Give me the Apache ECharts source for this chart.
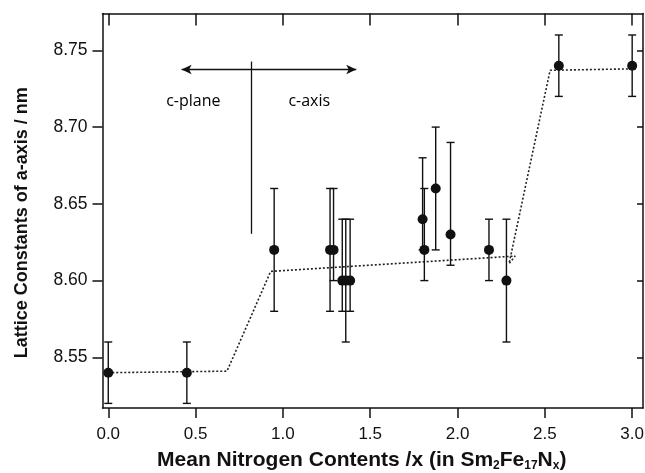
<!DOCTYPE html>
<html>
<head>
<meta charset="utf-8">
<script src="https://cdn.jsdelivr.net/npm/echarts@6/dist/echarts.min.js"></script>
<style>
  html, body { margin: 0; padding: 0; background: #fff; }
  #main { width: 645px; height: 473px; }
</style>
</head>
<body>
<div id="main"></div>
<script>
// tick positions
const xTicks = [0, 0.5, 1.0, 1.5, 2.0, 2.5, 3.0];
const yTicks = [8.55, 8.60, 8.65, 8.70, 8.75];

// measured points (x = mean N content, a = lattice constant) with error bar ends
const nitrogen = [0.00, 0.45, 0.95, 1.27, 1.29, 1.34, 1.36, 1.385, 1.80, 1.81, 1.875, 1.96, 2.18, 2.28, 2.58, 3.00];
const latticeA = [8.54, 8.54, 8.62, 8.62, 8.62, 8.60, 8.60, 8.60, 8.64, 8.62, 8.66, 8.63, 8.62, 8.60, 8.74, 8.74];
const errLow   = [8.52, 8.52, 8.58, 8.58, 8.60, 8.58, 8.56, 8.58, 8.62, 8.60, 8.62, 8.61, 8.60, 8.56, 8.72, 8.72];
const errHigh  = [8.56, 8.56, 8.66, 8.66, 8.66, 8.64, 8.64, 8.64, 8.68, 8.66, 8.70, 8.69, 8.64, 8.64, 8.76, 8.76];

// dotted guide line
const fitX = [0.00, 0.68, 0.93, 2.33, 2.295, 2.53, 3.03];
const fitY = [8.540, 8.541, 8.606, 8.616, 8.611, 8.737, 8.738];

// c-plane / c-axis annotation
const arrowX = [0.42, 1.42];
const arrowY = 8.7375;
const dividerX = 0.821;
const dividerY = [8.6305, 8.7427];
const regionLabels = ['c-plane', 'c-axis'];
const regionLabelX = [0.487, 1.151];
const regionLabelY = [8.717, 8.717];

const xMin = -0.033, xMax = 3.062;
const yMin = 8.517, yMax = 8.774;
const ink = '#111';
const font = 'Liberation Sans';

const chart = echarts.init(document.getElementById('main'));

function errorBar(params, api) {
  const x = api.value(0);
  const top = api.coord([x, api.value(2)]);
  const bot = api.coord([x, api.value(1)]);
  const w = 4;
  const style = { stroke: ink, lineWidth: 1.4 };
  return {
    type: 'group',
    children: [
      { type: 'line', shape: { x1: top[0], y1: top[1], x2: bot[0], y2: bot[1] }, style: style },
      { type: 'line', shape: { x1: top[0] - w, y1: top[1], x2: top[0] + w, y2: top[1] }, style: style },
      { type: 'line', shape: { x1: bot[0] - w, y1: bot[1], x2: bot[0] + w, y2: bot[1] }, style: style }
    ]
  };
}

const axisLine = { show: true, onZero: false, lineStyle: { color: ink, width: 1.5 } };

const option = {
  animation: false,
  grid: { left: 102.5, right: 2, top: 13.5, bottom: 65, containLabel: false, outerBoundsMode: 'none' },
  xAxis: [
    {
      type: 'value', position: 'bottom', min: xMin, max: xMax,
      axisLine: axisLine,
      axisTick: { show: true, customValues: xTicks, length: 10, lineStyle: { color: ink, width: 1.5 } },
      axisLabel: {
        customValues: xTicks, margin: 18, fontSize: 17, color: ink, fontFamily: font,
        formatter: v => v.toFixed(1)
      },
      splitLine: { show: false },
      name: 'Mean Nitrogen Contents /x (in Sm{sub|2}Fe{sub|17}N{sub|x})',
      nameLocation: 'middle',
      nameGap: 40,
      nameTextStyle: {
        fontSize: 21, fontWeight: 'bold', color: ink, fontFamily: font, lineHeight: 24,
        padding: [0, 22, 0, 0],
        rich: {
          sub: { fontSize: 12, fontWeight: 'bold', fontFamily: font, color: ink, lineHeight: 12, verticalAlign: 'bottom' }
        }
      }
    },
    {
      type: 'value', position: 'top', min: xMin, max: xMax,
      axisLine: axisLine,
      axisTick: { show: true, customValues: xTicks, inside: true, length: 12, lineStyle: { color: ink, width: 1.5 } },
      axisLabel: { show: false },
      splitLine: { show: false }
    }
  ],
  yAxis: [
    {
      type: 'value', position: 'left', min: yMin, max: yMax,
      axisLine: axisLine,
      axisTick: { show: true, customValues: yTicks, length: 10, lineStyle: { color: ink, width: 1.5 } },
      axisLabel: {
        customValues: yTicks, margin: 15, fontSize: 17.5, color: ink, fontFamily: font,
        formatter: v => v.toFixed(2)
      },
      splitLine: { show: false },
      name: 'Lattice Constants of a-axis / nm',
      nameLocation: 'middle',
      nameRotate: 90,
      nameGap: 71,
      nameTextStyle: { fontSize: 18, fontWeight: 'bold', color: ink, fontFamily: font, padding: [0, 24, 0, 0] }
    },
    {
      type: 'value', position: 'right', min: yMin, max: yMax,
      axisLine: axisLine,
      axisTick: { show: true, customValues: yTicks, inside: true, length: 6, lineStyle: { color: ink, width: 1.5 } },
      axisLabel: { show: false },
      splitLine: { show: false }
    }
  ],
  series: [
    {
      name: 'guide', type: 'line', z: 1,
      data: fitX.map((x, i) => [x, fitY[i]]),
      showSymbol: false, symbol: 'none', silent: true,
      lineStyle: { color: '#222', width: 1.6, type: [2, 2] }
    },
    {
      name: 'error', type: 'custom', z: 2,
      data: nitrogen.map((x, i) => [x, errLow[i], errHigh[i]]),
      renderItem: errorBar,
      encode: { x: 0, y: [1, 2] },
      silent: true
    },
    {
      name: 'a', type: 'scatter', z: 3,
      data: nitrogen.map((x, i) => [x, latticeA[i]]),
      symbolSize: 10,
      itemStyle: { color: ink, opacity: 1 }
    },
    {
      name: 'notes', type: 'scatter', z: 4, silent: true,
      data: regionLabels.map((t, i) => ({ value: [regionLabelX[i], regionLabelY[i]], name: t })),
      symbolSize: 1,
      itemStyle: { color: 'rgba(0,0,0,0)' },
      label: {
        show: true, position: 'top', distance: -9, formatter: p => p.name,
        fontSize: 16, color: '#000', fontFamily: 'Open Sans', fontWeight: 'normal',
        textBorderWidth: 0, opacity: 1
      },
      markLine: {
        silent: true, animation: false,
        label: { show: false },
        lineStyle: { color: ink, width: 1.3, type: 'solid' },
        data: [
          [
            { coord: [arrowX[0], arrowY], symbol: 'arrow', symbolSize: [7, 10] },
            { coord: [arrowX[1], arrowY], symbol: 'arrow', symbolSize: [7, 10] }
          ],
          [
            { coord: [dividerX, dividerY[1]], symbol: 'none' },
            { coord: [dividerX, dividerY[0]], symbol: 'none' }
          ]
        ]
      }
    }
  ]
};

chart.setOption(option);
</script>
</body>
</html>
